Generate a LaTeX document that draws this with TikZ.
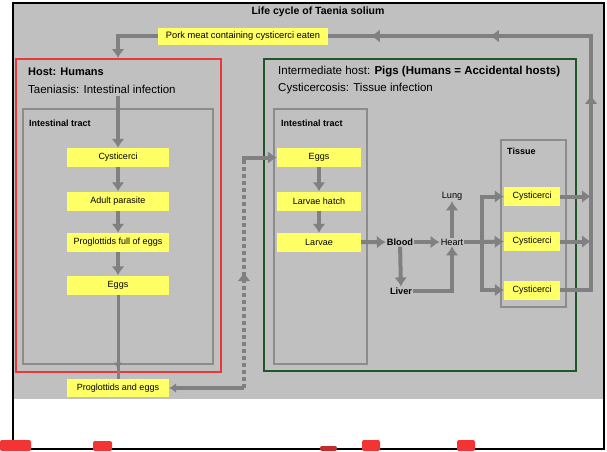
\documentclass[tikz,border=0pt]{standalone}
\usepackage{fontspec}
\setmainfont{Liberation Sans}
\usetikzlibrary{arrows.meta,decorations.markings,positioning}

\definecolor{bggray}{RGB}{192,192,192}
\definecolor{flowgray}{RGB}{128,128,128}
\definecolor{tractgray}{RGB}{140,140,140}
\definecolor{boxyellow}{RGB}{255,255,102}
\definecolor{hostred}{RGB}{232,56,60}
\definecolor{piggreen}{RGB}{30,88,40}
\definecolor{blobred}{RGB}{244,52,52}

\tikzset{
  ybox/.style={fill=boxyellow, inner sep=0pt, minimum height=19pt,
    font=\fontsize{9}{10}\selectfont},
  hostframe/.style={draw=#1, line width=1.5pt, anchor=north west, inner sep=0pt},
  tractframe/.style={draw=tractgray, line width=2pt, anchor=north west, inner sep=0pt},
  flow/.style={color=flowgray, line width=4pt, -{Latex[length=9pt,width=13pt]}},
  organ/.style={inner sep=1pt, font=\fontsize{9.2}{10}\selectfont},
  small label/.style={anchor=west, inner sep=0pt, font=\bfseries\fontsize{9}{10}\selectfont},
  big label/.style={anchor=west, inner sep=0pt, font=\fontsize{11.5}{13}\selectfont},
}

\begin{document}
\begin{tikzpicture}[x=1pt,y=-1pt]
  \useasboundingbox (0,0) rectangle (607,451);
  \fill[bggray] (14,4) rectangle (603,399);
  \draw[line width=2pt] (13,3) rectangle (604,449);

  \node[font=\bfseries\fontsize{10.5}{12}\selectfont] (title) at (318,12) {Life cycle of Taenia solium};
  \node[ybox, minimum width=170pt, minimum height=17pt, font=\fontsize{9.3}{10}\selectfont] (pork) at (243,36)
    {Pork meat containing cysticerci eaten};

  % humans
  \node[hostframe=hostred, minimum width=205pt, minimum height=313pt] (human) at (15,58) {};
  \node[big label, font=\bfseries\fontsize{11}{13}\selectfont] (hosttitle) at (28,72) {Host: Humans};
  \node[big label] (taeniasis) at (28,89) {Taeniasis: Intestinal infection};
  \node[tractframe, minimum width=190pt, minimum height=255pt] (humgut) at (22,108) {};
  \node[small label] (humgutlabel) at (29,123) {Intestinal tract};
  \node[ybox, minimum width=102pt] (hcyst) at (118,157.5) {Cysticerci};
  \node[ybox, minimum width=102pt] (hadult) at (118,201) {Adult parasite};
  \node[ybox, minimum width=102pt] (hprog) at (118,242.5) {Proglottids full of eggs};
  \node[ybox, minimum width=102pt] (heggs) at (118,285) {Eggs};
  \node[ybox, minimum width=102pt, minimum height=18pt] (passed) at (118,388) {Proglottids and eggs};

  % pigs
  \node[hostframe=piggreen, minimum width=312pt, minimum height=312pt] (pig) at (263,58) {};
  \node[big label] (pigtitle) at (278,72)
    {Intermediate host: \textbf{Pigs (Humans = Accidental hosts)}};
  \node[big label] (cysticercosis) at (278,89) {Cysticercosis: Tissue infection};
  \node[tractframe, minimum width=93pt, minimum height=255pt] (piggut) at (273,108) {};
  \node[small label] (piggutlabel) at (281,123) {Intestinal tract};
  \node[ybox, minimum width=84pt] (peggs) at (319,157.5) {Eggs};
  \node[ybox, minimum width=84pt] (phatch) at (319,201) {Larvae hatch};
  \node[ybox, minimum width=84pt] (plarvae) at (319,242.5) {Larvae};

  \node[organ, font=\bfseries\fontsize{9.2}{10}\selectfont] (blood) at (400,242) {Blood};
  \node[organ] (heart) at (452,242) {Heart};
  \node[organ] (lung) at (452,196) {Lung};
  \node[organ, font=\bfseries\fontsize{9.2}{10}\selectfont] (liver) at (401,291) {Liver};

  \node[tractframe, minimum width=65pt, minimum height=167pt] (tissue) at (500,139) {};
  \node[small label] (tissuelabel) at (507,151) {Tissue};
  \node[ybox, minimum width=56pt] (tcyst1) at (532,196.5) {Cysticerci};
  \node[ybox, minimum width=56pt] (tcyst2) at (532,241.5) {Cysticerci};
  \node[ybox, minimum width=56pt] (tcyst3) at (532,290) {Cysticerci};

  \coordinate (split) at (482,242);
  \coordinate (drop) at (244,388);
  \coordinate (rise) at (244,157.5);
  \coordinate (loopright) at (591,36);

  % chains
  \foreach \a/\b in {hcyst/hadult, hadult/hprog, hprog/heggs, peggs/phatch, phatch/plarvae,
      plarvae/blood, blood/heart, blood/liver, heart/lung}
    \draw[flow] (\a) -- (\b);
  \draw[flow] (liver.east) -| (heart.south);
  \draw[flow] (heart.east) -- (split) |- (tcyst1.west);
  \draw[flow] (split) -- (tcyst2.west);
  \draw[flow] (split) |- (tcyst3.west);
  \draw[flow] (tcyst1.east) -- (tcyst1.east -| loopright);
  \draw[flow] (tcyst2.east) -- (tcyst2.east -| loopright);

  % back to humans
  \draw[flow, -, postaction={decorate}, decoration={markings,
      mark=at position 226pt with {\arrow{Latex[length=9pt,width=13pt]}},
      mark=at position 386pt with {\arrow{Latex[length=9pt,width=13pt]}},
      mark=at position 505pt with {\arrow{Latex[length=9pt,width=13pt]}}}]
    (tcyst3.east) -| (loopright) -- (pork.east);
  \draw[flow] (pork.west) -| (human.north -| hcyst.north);
  \draw[flow] ([yshift=-3pt]taeniasis.south -| hcyst.north) -- (hcyst.north);

  % passed out and eaten by pigs
  \draw[color=flowgray, line width=3pt, postaction={decorate}, decoration={markings,
      mark=at position 74pt with {\arrow{Latex[length=6pt,width=9pt]}}}]
    (heggs.south) -- (passed.north);
  \draw[flow, {Latex[length=7pt,width=10pt]}-] (passed.east) -- (drop);
  \draw[color=flowgray, line width=4pt, dash pattern=on 4pt off 3pt, postaction={decorate},
      decoration={markings, mark=at position 116pt with {\arrow{Latex[length=9pt,width=13pt]}}}]
    (drop) -- (rise);
  \draw[flow] ([xshift=-2pt]rise) -- (peggs.west);

  % cut-off marks along the bottom
  \foreach \xa/\xb/\ya in {0/31/440, 93/112/441, 362/380/440, 457/475/440}
    \fill[blobred, rounded corners=2pt] (\xa,\ya) rectangle (\xb,451);
  \fill[blobred!80!black, rounded corners=2pt] (320,446) rectangle (337,451);
\end{tikzpicture}
\end{document}
